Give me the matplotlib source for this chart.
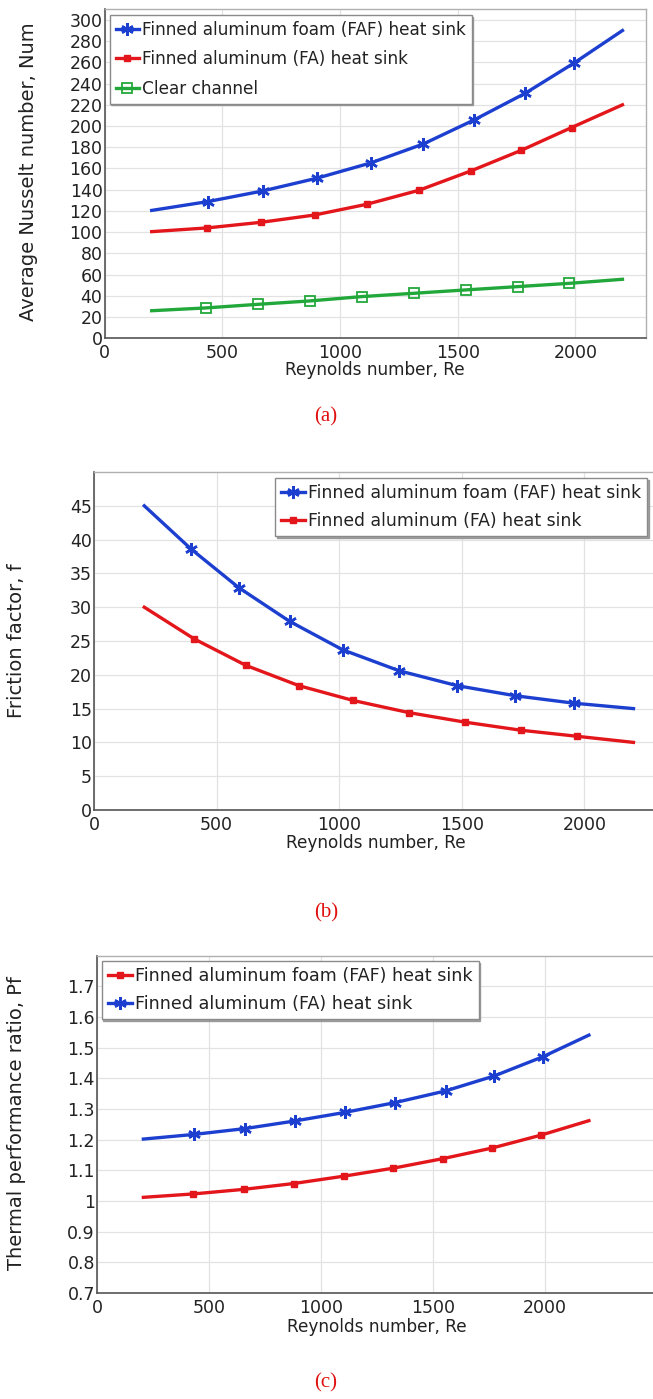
import matplotlib
matplotlib.use("Agg")
import matplotlib.pyplot as plt
from matplotlib.ticker import FuncFormatter

# ---------------- data ----------------
# (a) Average Nusselt number vs Reynolds number
re_a_faf = [200, 438, 671, 901, 1130, 1354, 1570, 1787, 1993, 2200]
nu_a_faf = [120.5, 128.8, 138.8, 150.8, 165.2, 183.1, 205.8, 230.9, 259.2, 290]
re_a_fa = [200, 435, 665, 893, 1114, 1336, 1556, 1771, 1984, 2200]
nu_a_fa = [100.5, 104, 109.3, 116.2, 126.3, 139.5, 157.7, 177.2, 198.6, 220]
re_a_cc = [200, 429, 650, 871, 1093, 1313, 1535, 1755, 1975, 2200]
nu_a_cc = [26, 28.6, 32, 35.2, 39.3, 42.4, 45.6, 48.7, 51.8, 55.6]

# (b) Friction factor vs Reynolds number
re_b_faf = [205, 396, 590, 798, 1014, 1244, 1480, 1718, 1957, 2200]
f_b_faf = [45.0, 38.6, 32.9, 27.9, 23.7, 20.6, 18.4, 16.9, 15.8, 15.0]
re_b_fa = [205, 409, 619, 835, 1057, 1285, 1512, 1741, 1971, 2200]
f_b_fa = [30.0, 25.3, 21.4, 18.4, 16.2, 14.4, 13.0, 11.8, 10.9, 10.0]

# (c) Thermal performance ratio vs Reynolds number
re_c_faf = [207, 429, 655, 878, 1102, 1322, 1543, 1765, 1983, 2196]
pf_c_faf = [1.012, 1.023, 1.038, 1.057, 1.081, 1.107, 1.138, 1.173, 1.215, 1.262]
re_c_fa = [207, 431, 659, 883, 1107, 1331, 1556, 1774, 1989, 2196]
pf_c_fa = [1.202, 1.217, 1.236, 1.261, 1.289, 1.321, 1.359, 1.408, 1.470, 1.541]

lbl_faf = "Finned aluminum foam (FAF) heat sink"
lbl_fa = "Finned aluminum (FA) heat sink"
lbl_cc = "Clear channel"
xticks = [0, 500, 1000, 1500, 2000]

# ---------------- style ----------------
W, H = 653, 1399
DPI = 100
BLUE = "#1c3fd0"
RED = "#e3161b"
GREEN = "#22a83a"
ASTER = (6, 2, 0)
TXT = "#222222"

plt.rcParams["font.family"] = ["DejaVu Sans"]
fig = plt.figure(figsize=(W / DPI, H / DPI), dpi=DPI)


def px_axes(left, top, right, bottom):
    return fig.add_axes([left / W, 1 - bottom / H, (right - left) / W, (bottom - top) / H])


def style_axes(ax):
    ax.grid(True, color="#e2e2e2", linewidth=0.9)
    ax.set_axisbelow(True)
    for s in ("left", "bottom"):
        ax.spines[s].set_color("#555555")
        ax.spines[s].set_linewidth(1.2)
    for s in ("top", "right"):
        ax.spines[s].set_color("#b0b0b0")
        ax.spines[s].set_linewidth(1.0)
    ax.tick_params(length=0, labelsize=12.5, colors=TXT)
    ax.tick_params(axis="y", pad=1.5)
    ax.tick_params(axis="x", pad=4)
    ax.set_xticks(xticks)


def faf_line(ax, x, y, label):
    ax.plot(x, y, color=BLUE, lw=2.4, marker=ASTER, ms=9, mew=1.8,
            markevery=slice(1, -1), label=label)


def fa_line(ax, x, y, label):
    ax.plot(x, y, color=RED, lw=2.4, marker="s", ms=4.5, mew=1,
            markevery=slice(1, -1), label=label)


def legend(ax, anchor, fs, spacing):
    lg = ax.legend(loc="upper left", bbox_to_anchor=anchor, borderaxespad=0,
                   fontsize=fs, handlelength=1.4, handletextpad=0.15,
                   labelspacing=spacing, borderpad=0.35, fancybox=False,
                   framealpha=1, edgecolor="#8a8a8a",
                   shadow={"ox": 1.2, "oy": -1.2, "color": "0.55", "alpha": 0.8})
    lg.get_frame().set_linewidth(1.0)
    for t in lg.get_texts():
        t.set_color(TXT)
    return lg


def xlabel(xc, yc):
    fig.text(xc / W, 1 - yc / H, "Reynolds number, Re", ha="center", va="center",
             fontsize=12.2, color=TXT)


def ylabel(xc, yc, s):
    fig.text(xc / W, 1 - yc / H, s, rotation=90, ha="center", va="center",
             fontsize=14, color=TXT)


# ---------------- panel (a) ----------------
axa = px_axes(104.6, 9.3, 646, 338.3)
faf_line(axa, re_a_faf, nu_a_faf, lbl_faf)
fa_line(axa, re_a_fa, nu_a_fa, lbl_fa)
axa.plot(re_a_cc, nu_a_cc, color=GREEN, lw=2.4, marker="s", ms=6.5, mew=1.3,
         mfc="none", markevery=slice(1, -1), label=lbl_cc)
axa.set_xlim(0, 2300)
axa.set_ylim(0, 310)
axa.set_yticks(range(0, 301, 20))
style_axes(axa)
legend(axa, (0.0092, 0.983), 12.2, 0.68)
xlabel(375, 370)
ylabel(29, 172, "Average Nusselt number, Num")

# ---------------- panel (b) ----------------
axb = px_axes(94, 472, 658, 810)
faf_line(axb, re_b_faf, f_b_faf, lbl_faf)
fa_line(axb, re_b_fa, f_b_fa, lbl_fa)
axb.set_xlim(0, 2300)
axb.set_ylim(0, 50)
axb.set_yticks(range(0, 46, 5))
style_axes(axb)
legend(axb, (0.3215, 0.982), 12.4, 0.58)
xlabel(376, 843)
ylabel(17, 641, "Friction factor, f")

# ---------------- panel (c) ----------------
axc = px_axes(97, 955.7, 657, 1293)
fa_line(axc, re_c_faf, pf_c_faf, lbl_faf)
faf_line(axc, re_c_fa, pf_c_fa, lbl_fa)
axc.set_xlim(0, 2500)
axc.set_ylim(0.7, 1.8)
axc.set_yticks([0.7 + 0.1 * i for i in range(11)])
axc.yaxis.set_major_formatter(FuncFormatter(lambda v, p: "%g" % round(v, 2)))
style_axes(axc)
legend(axc, (0.0084, 0.984), 12.6, 0.55)
xlabel(377, 1327)
ylabel(17, 1123, "Thermal performance ratio, Pf")

# ---------------- captions ----------------
for label, yc in (("(a)", 417), ("(b)", 913), ("(c)", 1383)):
    fig.text(326 / W, 1 - yc / H, label, ha="center", va="center", fontsize=15,
             color="#e01010", family=["Liberation Serif", "DejaVu Serif"])

fig.savefig("out.png", dpi=DPI)
